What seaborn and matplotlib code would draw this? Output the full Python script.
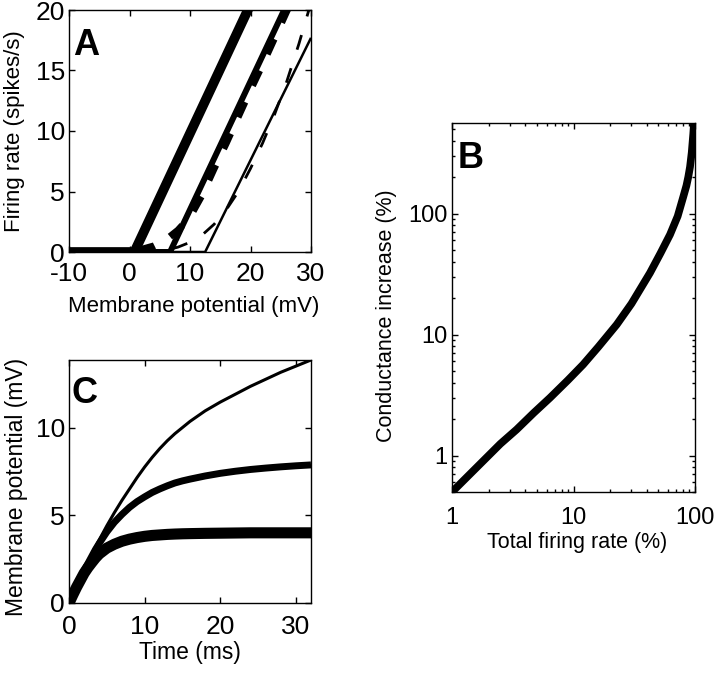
import matplotlib
matplotlib.use('Agg')
import matplotlib.pyplot as plt
import seaborn as sns

# panel A: firing rate vs membrane potential
a_thick_x = [-10, 0.8, 20.5]
a_thick_y = [0, 0, 21]
a_mid_x = [-10, 6.7, 26.5]
a_mid_y = [0, 0, 21]
a_thin_x = [-10, 12.5, 30]
a_thin_y = [0, 0, 17.7]
a_dash_thick_x = [-10, -2, 0, 2, 4, 6, 8, 10, 12, 14, 16, 18, 20, 22, 24, 26, 28]
a_dash_thick_y = [0, 0.01, 0.08, 0.22, 0.5, 1.0, 1.8, 2.9, 4.7, 6.9, 9.0, 11.2, 13.4, 15.5, 17.7, 19.9, 22.0]
a_dash_thin_x = [-10, 0, 4, 6, 8, 10, 12, 14, 16, 18, 20, 22, 24, 26, 28, 30]
a_dash_thin_y = [0, 0, 0.05, 0.15, 0.4, 0.8, 1.4, 2.3, 3.5, 5.0, 6.9, 9.0, 11.4, 14.1, 17.2, 20.6]

# panel B: conductance increase vs total firing rate
b_rate = [1, 1.4, 1.8, 2.5, 3.4, 4.7, 6.4, 9, 12, 16, 22.7, 30, 42.6, 52, 62.3, 72, 80, 85, 88, 91, 94, 96.8, 98.5]
b_cond = [0.5, 0.7, 0.9, 1.25, 1.64, 2.25, 3.0, 4.2, 5.65, 7.9, 12.1, 18, 32.3, 47, 67, 95, 137, 170, 200, 243, 320, 457, 600]

# panel C: membrane potential vs time
c_time = [0, 0.5, 1, 1.5, 2, 2.5, 3, 3.5, 4, 5, 6, 7, 8, 9, 10, 11, 12, 13, 14, 15, 16, 18, 20, 22, 24, 26, 28, 30, 32]
c_thin = [0, 0.48, 0.95, 1.43, 1.9, 2.35, 2.8, 3.2, 3.6, 4.4, 5.15, 5.85, 6.5, 7.15, 7.75, 8.3, 8.8, 9.25,
          9.65, 10.0, 10.35, 10.95, 11.45, 11.9, 12.35, 12.75, 13.15, 13.5, 13.85]
c_mid = [0, 0.48, 0.95, 1.4, 1.85, 2.25, 2.65, 3.05, 3.4, 4.05, 4.6, 5.05, 5.45, 5.78, 6.05, 6.3, 6.5, 6.68,
         6.84, 6.96, 7.06, 7.24, 7.39, 7.51, 7.61, 7.69, 7.76, 7.82, 7.87]
c_thick = [0, 0.46, 0.9, 1.3, 1.7, 2.02, 2.3, 2.57, 2.8, 3.13, 3.35, 3.52, 3.64, 3.73, 3.8, 3.85, 3.88, 3.91,
           3.93, 3.945, 3.955, 3.97, 3.98, 3.99, 4.0, 4.0, 4.0, 4.0, 4.0]

sns.set_theme(style='ticks')
plt.rcParams['font.family'] = ['Liberation Sans', 'DejaVu Sans']
plt.rcParams['lines.scale_dashes'] = False
plt.rcParams['text.color'] = 'black'
plt.rcParams['axes.labelcolor'] = 'black'
plt.rcParams['xtick.color'] = 'black'
plt.rcParams['ytick.color'] = 'black'


def line(ax, x, y, lw, dashes=None):
    sns.lineplot(x=x, y=y, ax=ax, color='black', linewidth=lw, estimator=None, sort=False)
    ln = ax.lines[-1]
    ln.set_solid_capstyle('butt')
    ln.set_solid_joinstyle('round')
    if dashes is not None:
        ln.set_dashes(dashes)
        ln.set_dash_capstyle('butt')


def style(ax, size, xpad):
    ax.tick_params(which='both', direction='in', top=True, right=True, labelsize=size,
                   width=1, color='black', labelcolor='black')
    ax.tick_params(which='major', length=4)
    ax.tick_params(which='minor', length=2.5)
    ax.tick_params(axis='x', pad=xpad)
    ax.tick_params(axis='y', pad=3)
    for s in ax.spines.values():
        s.set_visible(True)
        s.set_linewidth(1)
        s.set_color('black')


fig = plt.figure(figsize=(7.2, 6.74), dpi=100)

# A
axA = fig.add_axes([69/720, 1-252/674, 242/720, 242/674])
line(axA, a_thick_x, a_thick_y, 7)
line(axA, a_mid_x, a_mid_y, 4.3)
line(axA, a_thin_x, a_thin_y, 1.8)
line(axA, a_dash_thick_x, a_dash_thick_y, 5, (12, 13))
line(axA, a_dash_thin_x, a_dash_thin_y, 2, (11, 14))
axA.set_xlim(-10, 30)
axA.set_ylim(0, 20)
axA.set_xticks([-10, 0, 10, 20, 30], labels=['-10', '0', '10', '20', '30'])
axA.set_yticks([0, 5, 10, 15, 20])
style(axA, 19, 7)
axA.set_xlabel('Membrane potential (mV)', fontsize=16)
axA.set_ylabel('Firing rate (spikes/s)', fontsize=16)
axA.xaxis.set_label_coords(0.517, -0.182)
axA.yaxis.set_label_coords(-0.182, 0.5)
axA.text(0.015, 0.815, 'A', transform=axA.transAxes, fontsize=26, fontweight='bold', va='baseline')

# B
axB = fig.add_axes([452/720, 1-492/674, 243/720, 369/674])
axB.set_xscale('log')
axB.set_yscale('log')
line(axB, b_rate, b_cond, 5.5)
axB.set_xlim(1, 100)
axB.set_ylim(0.5, 560)
axB.set_xticks([1, 10, 100], labels=['1', '10', '100'])
axB.set_yticks([1, 10, 100], labels=['1', '10', '100'])
style(axB, 17, 11)
axB.set_xlabel('Total firing rate (%)', fontsize=15.5)
axB.set_ylabel('Conductance increase (%)', fontsize=15.5)
axB.xaxis.set_label_coords(0.516, -0.108)
axB.yaxis.set_label_coords(-0.226, 0.477)
axB.text(0.025, 0.878, 'B', transform=axB.transAxes, fontsize=26, fontweight='bold', va='baseline')

# C
axC = fig.add_axes([69/720, 1-603/674, 242/720, 243/674])
line(axC, c_time, c_thin, 2.2)
line(axC, c_time, c_mid, 5)
line(axC, c_time, c_thick, 8)
axC.set_xlim(0, 32)
axC.set_ylim(0, 13.85)
axC.set_xticks([0, 10, 20, 30])
axC.set_yticks([0, 5, 10])
style(axC, 19, 9)
axC.set_xlabel('Time (ms)', fontsize=16.5)
axC.set_ylabel('Membrane potential (mV)', fontsize=16.5)
axC.xaxis.set_label_coords(0.5, -0.156)
axC.yaxis.set_label_coords(-0.169, 0.477)
axC.text(0.012, 0.823, 'C', transform=axC.transAxes, fontsize=26, fontweight='bold', va='baseline')

fig.savefig('out.png', dpi=100, facecolor='white')
